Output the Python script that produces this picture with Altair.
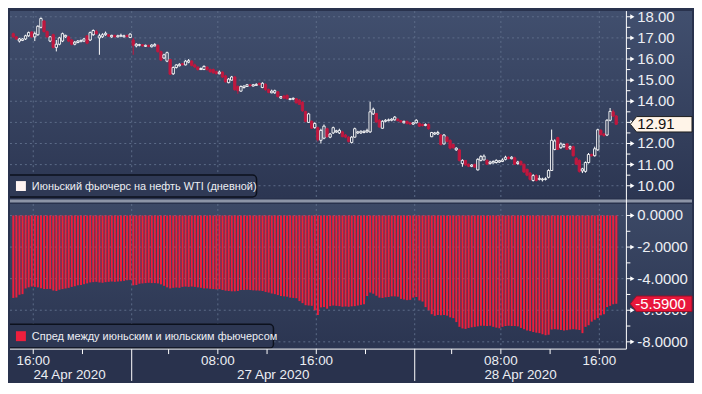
import altair as alt
import pandas as pd

# ---------------- data ----------------
OPEN = [17.20, 17.05, 16.85, 16.88, 16.95, 17.10, 17.28, 17.05, 17.15, 17.50,
        17.80, 17.30, 16.85, 17.15, 16.55, 16.70, 16.85, 17.05, 17.05, 16.90,
        16.70, 16.78, 16.82, 16.85, 17.10, 16.90, 17.15, 17.30, 17.00, 17.05,
        17.15, 17.15, 17.05, 17.12, 17.05, 17.08, 17.05, 17.12, 17.02, 16.90,
        16.62, 16.65, 16.68, 16.60, 16.65, 16.58, 16.62, 16.65, 16.35, 16.05,
        15.90, 15.98, 15.30, 15.60, 15.68, 15.78, 15.72, 15.85, 15.90, 15.72,
        15.62, 15.50, 15.50, 15.62, 15.50, 15.50, 15.40, 15.30, 15.38, 15.20,
        14.88, 15.00, 15.15, 14.70, 14.48, 14.65, 14.70, 14.78, 14.72, 14.75,
        14.85, 14.65, 14.80, 14.55, 14.40, 14.40, 14.45, 14.15, 14.25, 14.28,
        14.08, 14.10, 14.12, 14.05, 13.95, 13.52, 13.00, 13.05, 12.75, 12.75,
        12.15, 12.25, 12.70, 12.30, 12.50, 12.55, 12.50, 12.55, 12.40, 12.30,
        12.05, 12.30, 12.50, 12.50, 12.52, 12.55, 12.55, 13.40, 13.42, 13.10,
        12.72, 13.05, 13.08, 13.10, 13.12, 13.15, 13.08, 12.98, 13.05, 12.98,
        12.92, 12.98, 12.95, 12.90, 12.85, 12.90, 12.32, 12.45, 12.45, 12.40,
        11.98, 12.30, 12.15, 11.95, 11.70, 11.70, 11.05, 11.20, 11.02, 10.92,
        11.00, 10.75, 11.20, 11.22, 11.20, 11.05, 11.08, 11.10, 11.12, 11.15,
        11.25, 11.35, 11.28, 11.32, 11.05, 11.15, 11.02, 10.78, 10.60, 10.25,
        10.48, 10.30, 10.28, 10.30, 10.40, 10.72, 11.72, 12.28, 11.80, 11.85,
        11.98, 11.78, 11.85, 11.30, 11.20, 10.70, 10.68, 11.10, 11.48, 11.42,
        11.70, 12.62, 12.45, 12.40, 13.10, 13.50, 13.30]
CLOSE = [17.05, 16.95, 16.95, 16.95, 17.10, 17.25, 17.05, 17.20, 17.55, 17.92,
         17.30, 17.05, 17.05, 16.55, 16.70, 17.00, 17.20, 17.12, 16.85, 16.70,
         16.80, 16.85, 16.88, 16.95, 16.75, 17.25, 17.35, 17.20, 17.10, 17.15,
         17.22, 17.08, 17.12, 17.05, 17.10, 17.12, 17.10, 17.06, 17.18, 16.65,
         16.70, 16.68, 16.62, 16.65, 16.60, 16.66, 16.68, 16.35, 15.95, 16.20,
         16.30, 15.28, 15.60, 15.72, 15.75, 15.72, 15.90, 15.92, 15.70, 15.62,
         15.50, 15.55, 15.65, 15.50, 15.40, 15.35, 15.30, 15.38, 15.15, 14.92,
         15.05, 15.15, 14.55, 14.50, 14.70, 14.72, 14.78, 14.73, 14.78, 14.80,
         14.78, 14.85, 14.55, 14.42, 14.48, 14.50, 14.22, 14.22, 14.15, 14.12,
         14.12, 14.14, 13.92, 13.85, 13.55, 13.05, 13.40, 12.72, 12.95, 12.18,
         12.62, 12.82, 12.32, 12.45, 12.75, 12.60, 12.62, 12.32, 12.30, 12.10,
         12.30, 12.70, 12.55, 12.58, 12.58, 12.62, 13.50, 13.62, 13.02, 12.78,
         13.05, 13.10, 13.12, 13.15, 13.25, 13.08, 13.02, 13.05, 12.95, 12.92,
         12.98, 13.10, 12.82, 12.85, 12.90, 12.70, 12.52, 12.50, 12.52, 11.95,
         12.40, 12.10, 11.78, 11.80, 11.78, 11.20, 11.20, 10.98, 10.92, 10.98,
         10.88, 11.25, 11.38, 11.40, 11.02, 11.12, 11.15, 11.20, 11.18, 11.22,
         11.35, 11.28, 11.35, 11.02, 11.12, 11.00, 10.65, 10.50, 10.30, 10.48,
         10.25, 10.35, 10.32, 10.33, 10.72, 12.15, 12.12, 11.72, 11.98, 11.95,
         11.72, 11.85, 11.42, 11.02, 10.68, 10.80, 11.10, 11.48, 11.42, 11.75,
         12.65, 12.42, 12.38, 13.10, 13.52, 13.30, 12.91]
HIGH = [17.25, 17.08, 17.00, 16.98, 17.15, 17.30, 17.32, 17.30, 17.60, 17.97,
        17.85, 17.35, 17.08, 17.20, 16.90, 17.05, 17.25, 17.15, 17.10, 16.95,
        16.85, 16.90, 16.92, 17.00, 17.12, 17.30, 17.40, 17.38, 17.20, 17.22,
        17.30, 17.18, 17.15, 17.15, 17.15, 17.20, 17.15, 17.15, 17.22, 17.00,
        16.75, 16.72, 16.70, 16.68, 16.68, 16.70, 16.75, 16.70, 16.40, 16.25,
        16.35, 16.00, 15.65, 15.75, 15.80, 15.82, 15.95, 16.00, 15.95, 15.78,
        15.65, 15.60, 15.70, 15.65, 15.55, 15.55, 15.45, 15.45, 15.42, 15.25,
        15.10, 15.20, 15.20, 14.75, 14.75, 14.75, 14.82, 14.80, 14.82, 14.85,
        14.88, 14.90, 14.85, 14.60, 14.55, 14.55, 14.48, 14.25, 14.30, 14.32,
        14.15, 14.18, 14.15, 14.10, 14.00, 13.55, 13.45, 13.10, 13.00, 12.80,
        12.70, 12.90, 12.75, 12.50, 12.80, 12.65, 12.70, 12.60, 12.45, 12.35,
        12.35, 12.75, 12.60, 12.62, 12.62, 12.70, 13.98, 13.70, 13.45, 13.15,
        13.10, 13.15, 13.18, 13.20, 13.30, 13.20, 13.10, 13.08, 13.08, 13.00,
        13.00, 13.15, 13.00, 12.95, 12.95, 12.95, 12.55, 12.55, 12.60, 12.45,
        12.45, 12.35, 12.20, 12.00, 11.82, 11.75, 11.25, 11.22, 11.05, 11.02,
        11.05, 11.30, 11.45, 11.48, 11.25, 11.18, 11.20, 11.25, 11.22, 11.30,
        11.42, 11.40, 11.40, 11.38, 11.18, 11.20, 11.05, 10.80, 10.65, 10.55,
        10.55, 10.50, 10.38, 10.40, 10.78, 12.66, 12.20, 12.32, 12.05, 12.00,
        12.02, 11.90, 11.90, 11.35, 11.25, 10.85, 11.15, 11.55, 11.52, 11.85,
        12.70, 12.68, 12.50, 13.15, 13.68, 13.60, 13.35]
LOW = [17.00, 16.90, 16.78, 16.85, 16.90, 17.05, 17.00, 16.85, 17.10, 17.45,
       17.25, 17.00, 16.80, 16.50, 16.36, 16.65, 16.80, 17.00, 16.80, 16.65,
       16.65, 16.75, 16.80, 16.80, 16.70, 16.85, 17.10, 17.15, 16.20, 17.00,
       17.10, 17.05, 17.00, 17.02, 17.02, 17.05, 17.02, 17.02, 17.00, 16.20,
       16.55, 16.60, 16.58, 16.57, 16.55, 16.55, 16.60, 16.30, 15.90, 16.00,
       15.85, 15.25, 15.25, 15.55, 15.65, 15.70, 15.70, 15.80, 15.65, 15.58,
       15.45, 15.48, 15.48, 15.45, 15.35, 15.30, 15.28, 15.28, 15.10, 14.88,
       14.85, 14.98, 14.50, 14.35, 14.45, 14.60, 14.68, 14.70, 14.70, 14.73,
       14.75, 14.62, 14.50, 14.38, 14.38, 14.35, 14.18, 14.12, 14.10, 14.08,
       14.05, 14.05, 13.90, 13.82, 13.50, 13.00, 12.98, 12.70, 12.70, 12.10,
       12.00, 12.20, 12.28, 12.25, 12.45, 12.50, 12.45, 12.30, 12.25, 12.05,
       12.00, 12.28, 12.45, 12.45, 12.48, 12.50, 12.50, 13.35, 12.98, 12.75,
       12.70, 13.00, 13.05, 13.05, 13.08, 13.05, 12.98, 12.95, 12.90, 12.88,
       12.88, 12.95, 12.78, 12.80, 12.82, 12.65, 12.30, 12.40, 12.40, 11.90,
       11.95, 12.05, 11.72, 11.75, 11.65, 11.15, 10.90, 10.95, 10.88, 10.88,
       10.85, 10.72, 11.15, 11.20, 10.98, 11.00, 11.05, 11.05, 11.08, 11.12,
       11.20, 11.25, 11.25, 10.98, 11.00, 10.95, 10.60, 10.45, 10.25, 10.20,
       10.20, 10.25, 10.20, 10.25, 10.35, 10.70, 11.68, 11.70, 11.75, 11.80,
       11.70, 11.70, 11.38, 10.98, 10.62, 10.60, 10.62, 11.05, 11.38, 11.38,
       11.65, 12.38, 12.32, 12.35, 13.05, 13.25, 12.88]
SPREAD = [-5.22, -5.20, -5.02, -4.98, -4.62, -4.55, -4.50, -4.52, -4.55, -4.60,
          -4.66, -4.66, -4.65, -4.75, -4.78, -4.70, -4.66, -4.62, -4.58, -4.52,
          -4.48, -4.42, -4.40, -4.35, -4.30, -4.24, -4.22, -4.20, -4.24, -4.26,
          -4.22, -4.20, -4.18, -4.20, -4.18, -4.16, -4.14, -4.10, -4.08, -4.42,
          -4.40, -4.32, -4.30, -4.28, -4.26, -4.28, -4.28, -4.30, -4.36, -4.45,
          -4.55, -4.62, -4.58, -4.56, -4.58, -4.52, -4.50, -4.52, -4.50, -4.52,
          -4.55, -4.58, -4.62, -4.62, -4.64, -4.66, -4.68, -4.66, -4.72, -4.76,
          -4.78, -4.80, -4.80, -4.78, -4.72, -4.72, -4.70, -4.72, -4.74, -4.75,
          -4.76, -4.78, -4.84, -4.88, -4.94, -4.98, -5.04, -5.10, -5.12, -5.14,
          -5.20, -5.22, -5.24, -5.42, -5.55, -5.68, -5.70, -5.72, -6.00, -6.30,
          -5.82, -5.80, -5.90, -5.74, -5.70, -5.72, -5.74, -5.78, -5.76, -5.78,
          -5.75, -5.74, -5.70, -5.66, -5.62, -5.10, -4.88, -4.95, -5.08, -5.20,
          -5.22, -5.18, -5.16, -5.12, -5.12, -5.14, -5.28, -5.32, -5.36, -5.34,
          -5.20, -5.16, -5.38, -5.45, -5.80, -6.00, -6.25, -6.35, -6.30, -6.32,
          -6.30, -6.34, -6.45, -6.50, -6.75, -7.05, -7.15, -7.18, -7.12, -7.08,
          -7.05, -7.02, -6.98, -6.98, -7.00, -6.98, -7.05, -7.10, -7.14, -7.05,
          -7.00, -6.98, -7.00, -7.00, -7.02, -7.12, -7.20, -7.28, -7.32, -7.38,
          -7.42, -7.45, -7.52, -7.58, -7.55, -7.22, -7.20, -7.22, -7.25, -7.28,
          -7.26, -7.22, -7.20, -7.22, -7.25, -7.45, -7.05, -6.95, -6.72, -6.60,
          -6.50, -6.32, -6.25, -5.80, -5.72, -5.62, -5.59]

FIRST_SLOT = 1          # first 15-minute slot shown
SLOT_HOURS = 0.25       # 15-minute bars, x in trading hours from 24 Apr 14:00

TOP_TICKS = [10, 11, 12, 13, 14, 15, 16, 17, 18]
TOP_LABELED = [10, 11, 12, 14, 15, 16, 17, 18]     # 13.00 sits under the price box
TOP_MINOR = [10.5, 11.5, 12.5, 13.5, 14.5, 15.5, 16.5, 17.5]
BOT_TICKS = [0, -2, -4, -6, -8]
BOT_LABELED = [0, -2, -4, -6, -8]
BOT_MINOR = [-1, -3, -5, -7]

GRID_T = [2, 10, 17, 25, 33, 40, 48]
SEP_T = [10, 33]
SMALL_TICK_T = [2, 6, 13, 17, 21, 25, 29, 36, 40, 44, 48]
TIME_T = [2, 17, 25, 40, 48]
TIME_LABELS = ["16:00", "08:00", "16:00", "08:00", "16:00"]
DATE_T = [4.95, 21.5, 41.6]
DATE_LABELS = ["24 Apr 2020", "27 Apr 2020", "28 Apr 2020"]

TOP_LEGEND = "Июньский фьючерс на нефть WTI (дневной)"
BOT_LEGEND = "Спред между июньским и июльским фьючерсом"

# ---------------- layout / style ----------------
W, H1, H2 = 620, 188, 146
RIGHT = 66
XDOM = [0.11, 50.2]
FONT = "Liberation Sans"
GRID = "#5d6c88"
UP = "#ffffff"
DOWN = "#c0183f"
BAR = "#ee1f3d"
TXT = "#eceef3"

n = len(CLOSE)
assert len(OPEN) == n and len(HIGH) == n and len(LOW) == n and len(SPREAD) == n
t0 = [(FIRST_SLOT + k) * SLOT_HOURS for k in range(n)]
df = pd.DataFrame({"t0": t0, "open": OPEN, "close": CLOSE, "high": HIGH,
                   "low": LOW, "spread": SPREAD})
df["ta"] = df["t0"] + 0.03
df["tb"] = df["t0"] + 0.22
df["tc"] = df["t0"] + 0.125
df["ba"] = df["t0"] + 0.05
df["bb"] = df["t0"] + 0.21
df["zero"] = 0.0
df["dir"] = ["up" if c >= o else "down" for o, c in zip(OPEN, CLOSE)]

one = pd.DataFrame({"a": [0]})
xs = alt.Scale(domain=XDOM, nice=False, zero=False)
ys1 = alt.Scale(domain=[9.42, 18.27], nice=False, zero=False)
ys2 = alt.Scale(domain=[-8.46, 0.73], nice=False, zero=False)
dir_fill = alt.Scale(domain=["up", "down"], range=["#2e3954", DOWN])
dir_line = alt.Scale(domain=["up", "down"], range=[UP, DOWN])


def grad(c0, c1):
    return alt.LinearGradient(gradient="linear",
                              stops=[alt.GradientStop(color=c0, offset=0),
                                     alt.GradientStop(color=c1, offset=1)],
                              x1=0, x2=0, y1=0, y2=1)


def yaxis_layers(ticks, labeled, minor, fmt, ys, h):
    tk = pd.DataFrame({"v": ticks})
    lb = pd.DataFrame({"v": labeled, "s": [fmt.format(v) for v in labeled]})
    major = alt.Chart(tk).mark_rule(color="#ffffff", strokeWidth=1).encode(
        y=alt.Y("v:Q", scale=ys, axis=None), x=alt.value(W), x2=alt.value(W + 5))
    tri = alt.Chart(tk).mark_point(
        shape="triangle-right", filled=True, size=24, color="#ffffff",
        opacity=1).encode(y=alt.Y("v:Q", scale=ys, axis=None), x=alt.value(W + 6))
    mn = alt.Chart(pd.DataFrame({"v": minor})).mark_rule(
        color="#ffffff", strokeWidth=1).encode(
        y=alt.Y("v:Q", scale=ys, axis=None), x=alt.value(W), x2=alt.value(W + 4))
    lab = alt.Chart(lb).mark_text(
        align="left", baseline="middle", font=FONT, fontSize=15,
        color=TXT).encode(y=alt.Y("v:Q", scale=ys, axis=None),
                          x=alt.value(W + 11), text="s:N")
    dom = alt.Chart(one).mark_rule(color="#ffffff", strokeWidth=1).encode(
        x=alt.value(W), y=alt.value(0), y2=alt.value(h))
    return [major, tri, mn, lab, dom]


PRICE_BOX = "M -1 0 L -0.8 -0.25 L 1 -0.25 L 1 0.25 L -0.8 0.25 Z"

# ---------------- top panel ----------------
bg1 = alt.Chart(one).mark_rect(fill=grad("#414f6e", "#2c3652")).encode(
    x=alt.value(0), x2=alt.value(W + RIGHT), y=alt.value(0), y2=alt.value(H1))
g1h = alt.Chart(pd.DataFrame({"v": TOP_TICKS})).mark_rule(
    color=GRID, strokeDash=[2, 3], strokeWidth=1).encode(
    y=alt.Y("v:Q", scale=ys1, axis=None), x=alt.value(0), x2=alt.value(W))
g1v = alt.Chart(pd.DataFrame({"t": GRID_T})).mark_rule(
    color=GRID, strokeDash=[2, 3], strokeWidth=1).encode(
    x=alt.X("t:Q", scale=xs, axis=None), y=alt.value(0), y2=alt.value(H1))
wick = alt.Chart(df).mark_rule(strokeWidth=1).encode(
    x=alt.X("tc:Q", scale=xs, axis=None),
    y=alt.Y("low:Q", scale=ys1, axis=None), y2="high:Q",
    color=alt.Color("dir:N", scale=dir_line, legend=None))
body = alt.Chart(df).mark_rect(strokeWidth=0.9).encode(
    x=alt.X("ta:Q", scale=xs, axis=None), x2="tb:Q",
    y=alt.Y("open:Q", scale=ys1, axis=None), y2="close:Q",
    fill=alt.Fill("dir:N", scale=dir_fill, legend=None),
    stroke=alt.Stroke("dir:N", scale=dir_line, legend=None))
last1 = pd.DataFrame({"v": [CLOSE[-1]], "lbl": [f"{CLOSE[-1]:.2f}"]})
box1 = alt.Chart(last1).mark_point(
    shape=PRICE_BOX, size=62 * 62, filled=True, fill="#fff4e8",
    stroke="#1d1d1d", strokeWidth=1, opacity=1).encode(
    y=alt.Y("v:Q", scale=ys1, axis=None), x=alt.value(W + 4 + 31))
txt1 = alt.Chart(last1).mark_text(
    align="left", baseline="middle", font=FONT, fontSize=15, color="#111111").encode(
    y=alt.Y("v:Q", scale=ys1, axis=None), x=alt.value(W + 11), text="lbl:N")
leg1box = alt.Chart(one).mark_rect(
    clip=True, fill="#2f3955", stroke="#0c111d", strokeWidth=1.5,
    cornerRadius=4).encode(
    x=alt.value(-6), x2=alt.value(248), y=alt.value(H1 - 23), y2=alt.value(H1 - 1))
leg1sq = alt.Chart(one).mark_rect(fill="#fff4f2").encode(
    x=alt.value(6), x2=alt.value(16), y=alt.value(H1 - 17), y2=alt.value(H1 - 7))
leg1txt = alt.Chart(pd.DataFrame({"s": [TOP_LEGEND]})).mark_text(
    align="left", baseline="alphabetic", font=FONT, fontSize=11, color=TXT).encode(
    x=alt.value(22), y=alt.value(H1 - 8), text="s:N")
sep = alt.Chart(one).mark_rule(color="#8d95a7", strokeWidth=3).encode(
    x=alt.value(0), x2=alt.value(W + RIGHT), y=alt.value(H1 + 3))
gapline = alt.Chart(one).mark_rule(color="#ffffff", strokeWidth=1).encode(
    x=alt.value(W), y=alt.value(H1), y2=alt.value(H1 + 6))

top = alt.layer(
    bg1, g1h, g1v, wick, body, leg1box, leg1sq, leg1txt, sep, gapline,
    *yaxis_layers(TOP_TICKS, TOP_LABELED, TOP_MINOR, "{:.2f}", ys1, H1),
    box1, txt1).properties(width=W, height=H1)

# ---------------- bottom panel ----------------
bg2 = alt.Chart(one).mark_rect(fill=grad("#3c4966", "#2b3551")).encode(
    x=alt.value(0), x2=alt.value(W + RIGHT), y=alt.value(0), y2=alt.value(H2))
g2h = alt.Chart(pd.DataFrame({"v": BOT_TICKS})).mark_rule(
    color=GRID, strokeDash=[2, 3], strokeWidth=1).encode(
    y=alt.Y("v:Q", scale=ys2, axis=None), x=alt.value(0), x2=alt.value(W))
g2v = alt.Chart(pd.DataFrame({"t": GRID_T})).mark_rule(
    color=GRID, strokeDash=[2, 3], strokeWidth=1).encode(
    x=alt.X("t:Q", scale=xs, axis=None), y=alt.value(0), y2=alt.value(H2))
bars = alt.Chart(df).mark_rect(color=BAR).encode(
    x=alt.X("ba:Q", scale=xs, axis=None), x2="bb:Q",
    y=alt.Y("zero:Q", scale=ys2, axis=None), y2="spread:Q")
last2 = pd.DataFrame({"v": [SPREAD[-1]], "lbl": [f"{SPREAD[-1]:.4f}"]})
box2 = alt.Chart(last2).mark_point(
    shape=PRICE_BOX, size=62 * 62, filled=True, fill="#e8173b",
    stroke="#9a0f27", strokeWidth=1, opacity=1).encode(
    y=alt.Y("v:Q", scale=ys2, axis=None), x=alt.value(W + 4 + 31))
txt2 = alt.Chart(last2).mark_text(
    align="left", baseline="middle", font=FONT, fontSize=15, color="#ffffff").encode(
    y=alt.Y("v:Q", scale=ys2, axis=None), x=alt.value(W + 9), text="lbl:N")
leg2box = alt.Chart(one).mark_rect(
    clip=True, fill="#2d3753", stroke="#0c111d", strokeWidth=1.5,
    cornerRadius=4).encode(
    x=alt.value(-6), x2=alt.value(265), y=alt.value(H2 - 25), y2=alt.value(H2 - 1))
leg2sq = alt.Chart(one).mark_rect(fill=BAR).encode(
    x=alt.value(6), x2=alt.value(16), y=alt.value(H2 - 18), y2=alt.value(H2 - 8))
leg2txt = alt.Chart(pd.DataFrame({"s": [BOT_LEGEND]})).mark_text(
    align="left", baseline="alphabetic", font=FONT, fontSize=11, color=TXT).encode(
    x=alt.value(22), y=alt.value(H2 - 9), text="s:N")
xline = alt.Chart(one).mark_rule(color="#ffffff", strokeWidth=1).encode(
    x=alt.value(0), x2=alt.value(W), y=alt.value(H2))
sepline = alt.Chart(pd.DataFrame({"t": SEP_T})).mark_rule(
    color="#ffffff", strokeWidth=1).encode(
    x=alt.X("t:Q", scale=xs, axis=None), y=alt.value(H2), y2=alt.value(H2 + 32))
smallt = alt.Chart(pd.DataFrame({"t": SMALL_TICK_T})).mark_rule(
    color="#ffffff", strokeWidth=1).encode(
    x=alt.X("t:Q", scale=xs, axis=None), y=alt.value(H2), y2=alt.value(H2 + 5))
tlab = alt.Chart(pd.DataFrame({"t": TIME_T, "s": TIME_LABELS})).mark_text(
    align="center", baseline="alphabetic", font=FONT, fontSize=13.5, color=TXT).encode(
    x=alt.X("t:Q", scale=xs, axis=None), y=alt.value(H2 + 16), text="s:N")
dlab = alt.Chart(pd.DataFrame({"t": DATE_T, "s": DATE_LABELS})).mark_text(
    align="center", baseline="alphabetic", font=FONT, fontSize=13.5, color=TXT).encode(
    x=alt.X("t:Q", scale=xs, axis=None), y=alt.value(H2 + 30), text="s:N")

bottom = alt.layer(
    bg2, g2h, g2v, bars, leg2box, leg2sq, leg2txt, xline, sepline, smallt,
    tlab, dlab,
    *yaxis_layers(BOT_TICKS, BOT_LABELED, BOT_MINOR, "{:.4f}", ys2, H2),
    box2, txt2).properties(width=W, height=H2)

chart = alt.vconcat(top, bottom, spacing=6, bounds="flush").properties(
    background="#29324d", padding=0).configure_view(stroke=None)

chart.save("out.html", embed_options={"renderer": "svg", "actions": False})
